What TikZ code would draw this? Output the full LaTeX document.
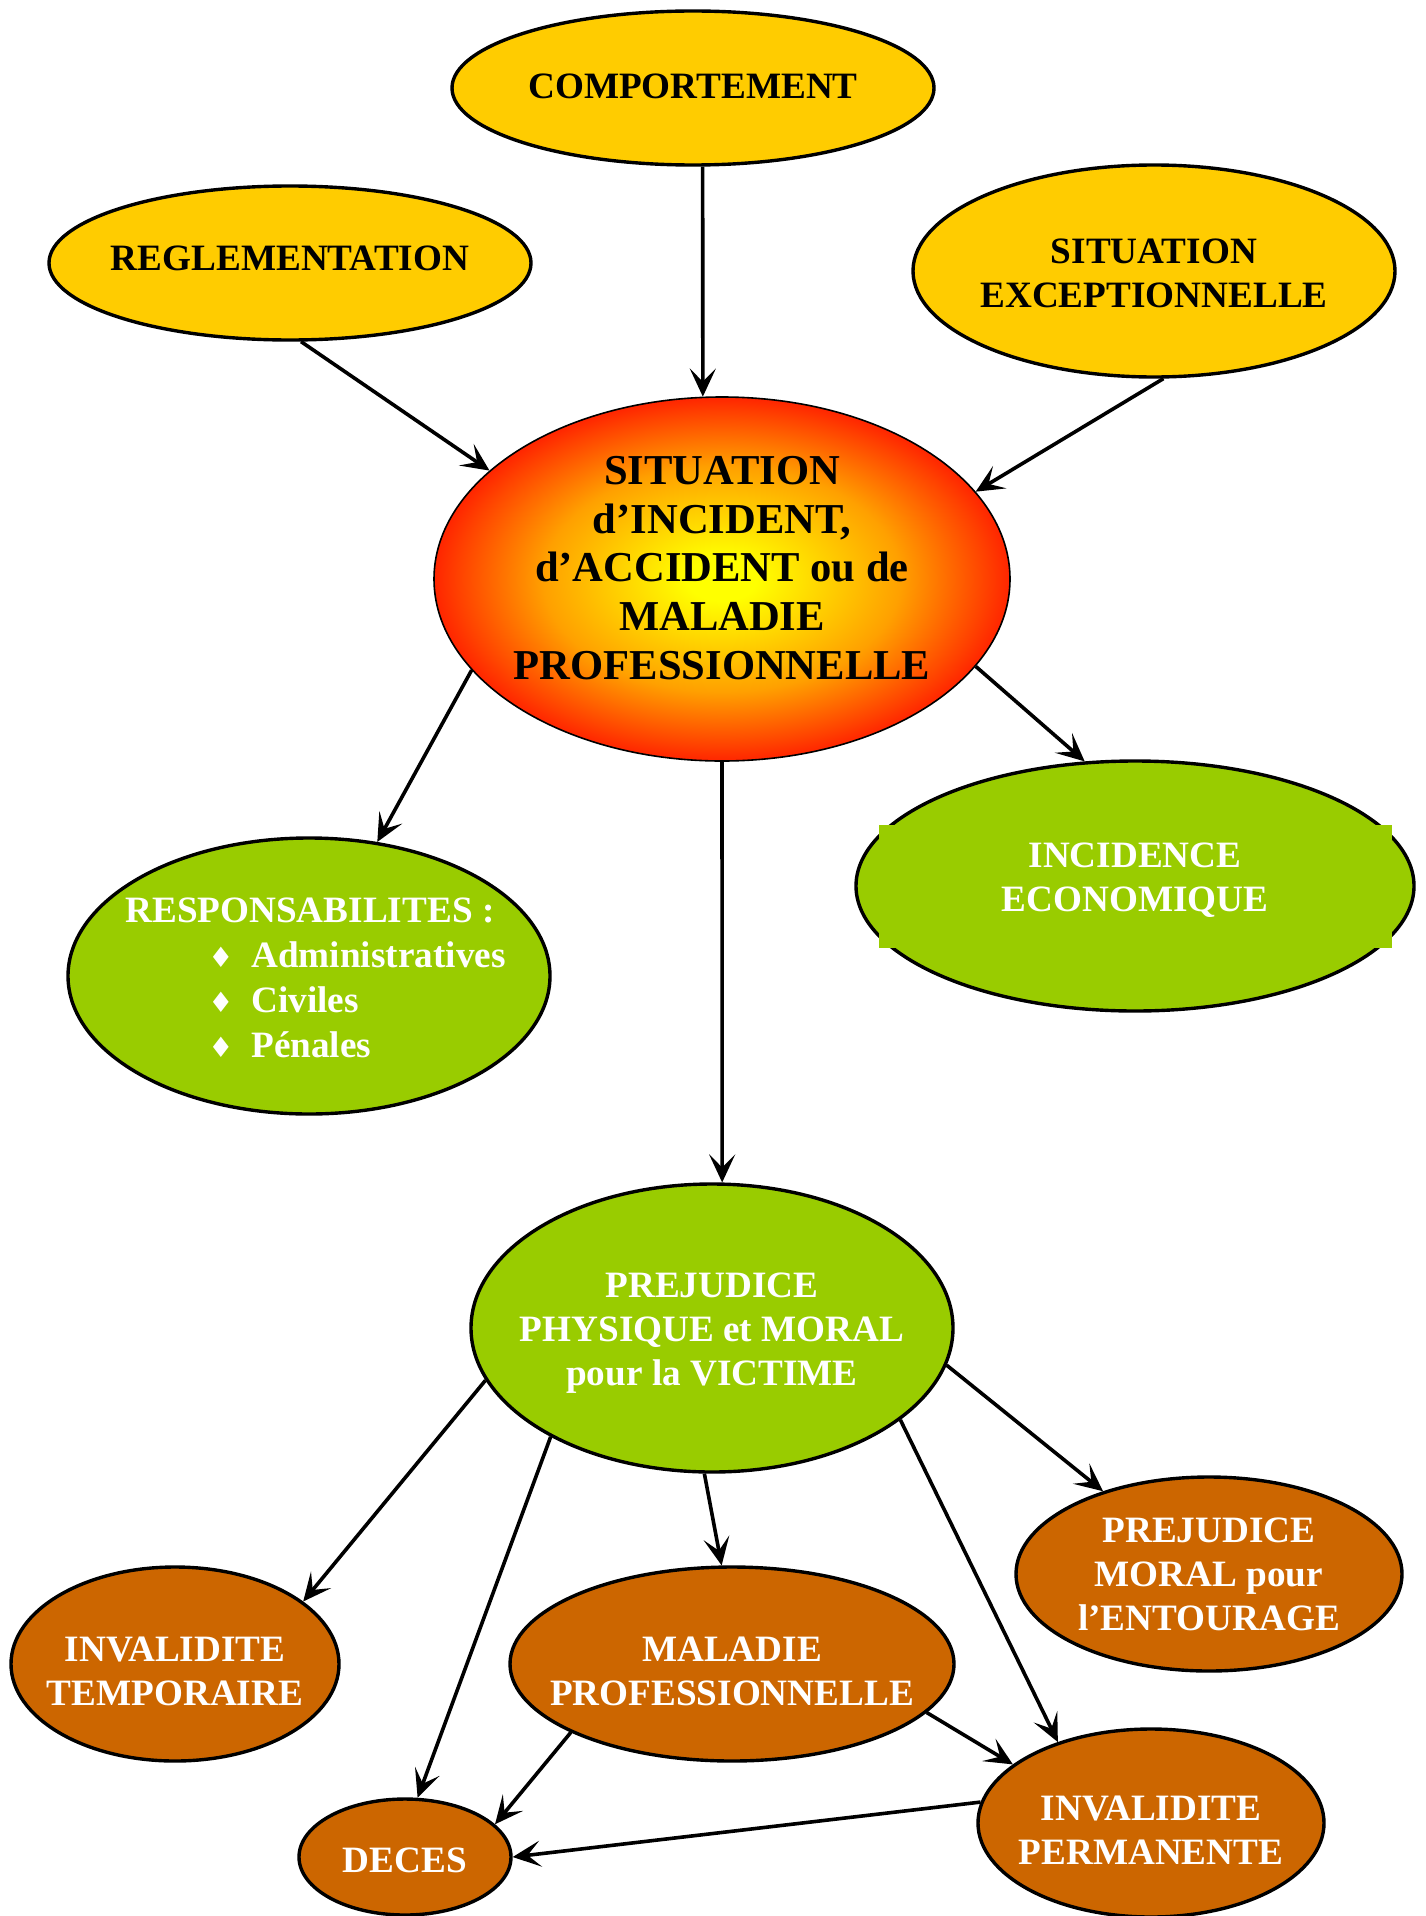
\documentclass[tikz,border=0pt]{standalone}
\usepackage{fontspec}
\setmainfont{Liberation Serif}
\newfontfamily\symfont{DejaVu Sans}
\usetikzlibrary{shapes.geometric,arrows.meta}

\definecolor{gold}{HTML}{FFCC00}
\definecolor{leaf}{HTML}{99CC00}
\definecolor{rust}{HTML}{CC6600}
\definecolor{hotcore}{HTML}{FFFF00}
\definecolor{hotmid}{HTML}{FFA000}
\definecolor{hotrim}{HTML}{FF4000}
\definecolor{hotedge}{HTML}{FF0A00}

% yellow heart fading to red at the rim
\pgfdeclareradialshading{hotspot}{\pgfpoint{0bp}{0bp}}{%
  color(0bp)=(hotcore); color(3bp)=(hotcore); color(15.5bp)=(hotmid);
  color(23bp)=(hotrim); color(27bp)=(hotedge); color(50bp)=(hotedge)}

\newcommand\diamondmark{{\symfont\fontsize{14}{14}\selectfont ♦}}

\tikzset{
  bubble/.style={ellipse, draw, line width=1.7pt, inner sep=0pt},
  lbl/.style={font=\bfseries\fontsize{18.6}{22}\selectfont, align=center, inner sep=0pt},
  wlbl/.style={lbl, text=white},
  arr/.style={line width=1.8pt, -{Stealth[length=14pt, width=13pt, inset=6.5pt]}},
}

\begin{document}
\begin{tikzpicture}[x=0.5pt, y=-0.5pt]
\useasboundingbox (0,0) rectangle (1425,1916);

% causes
\node[bubble, fill=gold, minimum width=241pt, minimum height=77pt] (comp) at (693,88) {};
\node[lbl] (compT) at (693,86) {COMPORTEMENT};
\node[bubble, fill=gold, minimum width=241pt, minimum height=77pt] (regl) at (290,263) {};
\node[lbl] (reglT) at (290,258) {REGLEMENTATION};
\node[bubble, fill=gold, minimum width=241pt, minimum height=106pt] (sitex) at (1154,271) {};
\node[lbl] (sitexT) at (1154,273) {SITUATION\\EXCEPTIONNELLE};

% central situation
\node[bubble, line width=0.8pt, shading=hotspot, minimum width=288pt, minimum height=182pt] (hub) at (722,579) {};
\node[lbl, font=\bfseries\fontsize{21.3}{24.4}\selectfont] (hubT) at (722,568)
  {SITUATION\\d’INCIDENT,\\d’ACCIDENT ou de\\MALADIE\\PROFESSIONNELLE};

% consequences
\node[bubble, fill=leaf, minimum width=241pt, minimum height=138pt] (resp) at (309,976) {};
\node[wlbl, align=left, anchor=west, font=\bfseries\fontsize{18.6}{22.5}\selectfont] (respT) at (125,978)
  {RESPONSABILITES :\\
   \hspace*{41.5pt}\makebox[21.5pt][l]{\diamondmark}Administratives\\
   \hspace*{41.5pt}\makebox[21.5pt][l]{\diamondmark}Civiles\\
   \hspace*{41.5pt}\makebox[21.5pt][l]{\diamondmark}Pénales};

\node[bubble, fill=leaf, minimum width=279pt, minimum height=125pt] (inc) at (1135,886) {};
\node[fill=leaf, inner sep=0pt, minimum width=256.5pt, minimum height=61.5pt] (incbox) at (1135.5,886.5) {};
\node[wlbl] (incT) at (1135,880) {INCIDENCE\\ECONOMIQUE};

\node[bubble, fill=leaf, minimum width=241pt, minimum height=144pt] (ppm) at (712,1328) {};
\node[wlbl] (ppmT) at (712,1333) {PREJUDICE\\PHYSIQUE et MORAL\\pour la VICTIME};

% effects on the victim
\node[bubble, fill=rust, minimum width=193pt, minimum height=97pt] (pmor) at (1209,1574) {};
\node[wlbl] (pmorT) at (1209,1574) {PREJUDICE\\MORAL pour\\l’ENTOURAGE};
\node[bubble, fill=rust, minimum width=164pt, minimum height=97pt] (invt) at (175,1664) {};
\node[wlbl] (invtT) at (175,1671) {INVALIDITE\\TEMPORAIRE};
\node[bubble, fill=rust, minimum width=222pt, minimum height=97pt] (mal) at (732,1664) {};
\node[wlbl] (malT) at (732,1671) {MALADIE\\PROFESSIONNELLE};
\node[bubble, fill=rust, minimum width=106pt, minimum height=58pt] (deces) at (405,1857) {};
\node[wlbl] (decesT) at (405,1860) {DECES};
\node[bubble, fill=rust, minimum width=173pt, minimum height=94pt] (invp) at (1151,1823) {};
\node[wlbl] (invpT) at (1151,1830) {INVALIDITE\\PERMANENTE};

% connectors
\draw[arr] (comp.-83) -- (hub.96);
\draw[arr] (regl.-82) -- (hub.155);
\draw[arr] (sitex.-85) -- (hub.19);
\draw[arr] (hub.-160) -- (resp.63);
\draw[arr] (hub.-19) -- (inc.112);
\draw[arr] (hub.-90) -- (ppm.86);
\draw[arr] (ppm.-167) -- (invt.26);
\draw[arr] (ppm.-146) -- (deces.78);
\draw[arr] (ppm.-93) -- (mal.96);
\draw[arr] (ppm.-26) -- (invp.139);
\draw[arr] (ppm.-9) -- (pmor.142);
\draw[arr] (mal.-157) -- (deces.20);
\draw[arr] (mal.-14) -- (invp.157);
\draw[arr] (invp.173) -- (deces.0);
\end{tikzpicture}
\end{document}
